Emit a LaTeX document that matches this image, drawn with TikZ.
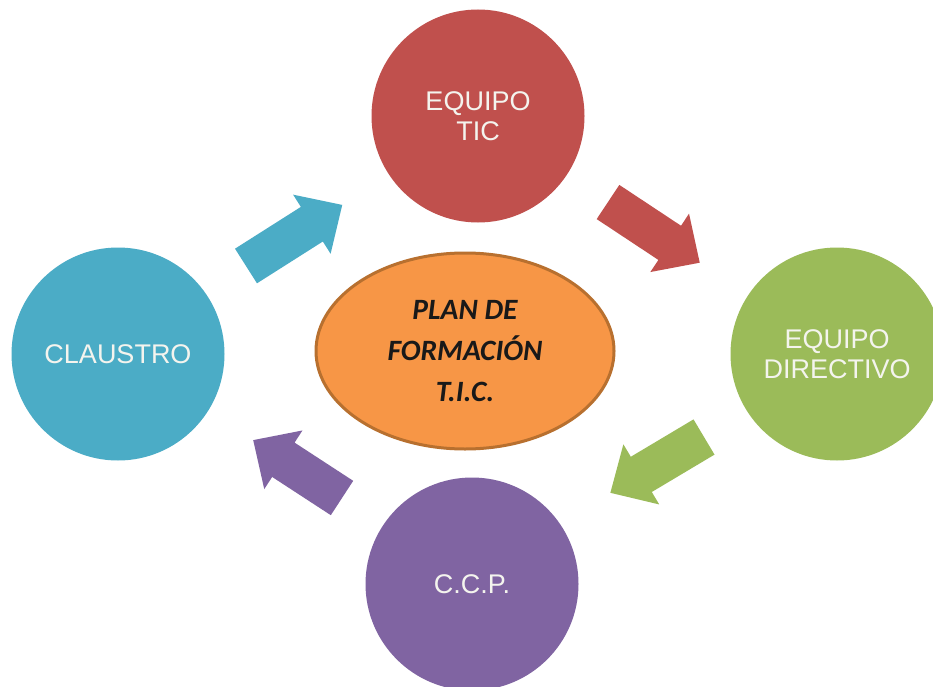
\documentclass[tikz,border=0pt]{standalone}
\usepackage{fontspec}
\setmainfont{Liberation Sans}
\newfontfamily\calibfont{Carlito}
\usetikzlibrary{shapes.geometric}
\definecolor{cred}{HTML}{C0504D}
\definecolor{cblue}{HTML}{4BACC6}
\definecolor{cgreen}{HTML}{9BBB59}
\definecolor{cpurple}{HTML}{8064A2}
\definecolor{corange}{HTML}{F79646}
\definecolor{cborder}{HTML}{B8702F}
\definecolor{ctext}{HTML}{F4F4EE}
\newcommand{\blkarrow}[4]{%
  \fill[#1, shift={(#2)}, rotate=#3]
    (0,-20.5) -- (#4-36,-20.5) -- (#4-36,-35) -- (#4,0) --
    (#4-36,35) -- (#4-36,20.5) -- (0,20.5) -- cycle;}
\begin{document}
\begin{tikzpicture}[x=1pt,y=-1pt,
  circ/.style={circle, minimum size=213pt, inner sep=0pt, draw=none,
    text=ctext, align=center, font=\fontsize{27}{29.5}\selectfont}]
\useasboundingbox (0,0) rectangle (933,687);
\fill[white] (0,0) rectangle (933,687);
\clip (0,0) rectangle (933,687);
% circles
\node[circ, fill=cred] (tic) at (478,116) {EQUIPO\\TIC};
\node[circ, fill=cblue] (claustro) at (118,354) {CLAUSTRO};
\node[circ, fill=cgreen] (directivo) at (837,354) {EQUIPO\\DIRECTIVO};
\node[circ, fill=cpurple] (ccp) at (472,584) {C.C.P.};
% center ellipse
\node[ellipse, minimum width=298pt, minimum height=196pt, inner sep=0pt,
  fill=corange, draw=cborder, line width=3pt, align=center,
  font=\calibfont\bfseries\itshape\fontsize{29.5}{41}\selectfont,
  text=black!90] (plan) at (465,351) {PLAN DE\\FORMACIÓN\\T.I.C.};
% block arrows
\blkarrow{cblue}{246,266}{32.4}{114}
\blkarrow{cred}{608,202}{-33.5}{110}
\blkarrow{cgreen}{704,437}{210.8}{109}
\blkarrow{cpurple}{342,498}{146.9}{106}
\end{tikzpicture}
\end{document}
